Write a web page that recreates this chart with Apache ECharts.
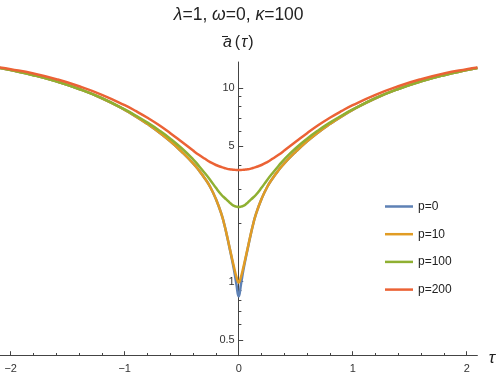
<!DOCTYPE html>
<html>
<head>
<meta charset="utf-8">
<script src="https://cdn.jsdelivr.net/npm/echarts@6/dist/echarts.min.js"></script>
<style>
  html, body { margin: 0; padding: 0; background: #fff; }
  #main { width: 498px; height: 380px; }
</style>
</head>
<body>
<div id="main"></div>
<script>
// tau samples (denser near 0 where the curves dip)
const tau = [-2.094, -2.0, -1.8, -1.6, -1.4, -1.2, -1.0, -0.9, -0.8, -0.7, -0.6, -0.5, -0.4, -0.35, -0.3, -0.25, -0.2, -0.15, -0.125, -0.1, -0.08, -0.06, -0.04, -0.02,
  0,
  0.02, 0.04, 0.06, 0.08, 0.1, 0.125, 0.15, 0.2, 0.25, 0.3, 0.35, 0.4, 0.5, 0.6, 0.7, 0.8, 0.9, 1.0, 1.2, 1.4, 1.6, 1.8, 2.0, 2.094];

const p0 = [12.66, 12.35, 11.63, 10.80, 9.87, 8.84, 7.70, 7.11, 6.51, 5.91, 5.30, 4.68, 4.08, 3.76, 3.43, 3.08, 2.67, 2.22, 1.96, 1.69, 1.49, 1.31, 1.14, 0.97,
  0.84,
  0.97, 1.14, 1.31, 1.49, 1.69, 1.96, 2.22, 2.67, 3.08, 3.43, 3.76, 4.08, 4.68, 5.30, 5.91, 6.51, 7.11, 7.70, 8.84, 9.87, 10.80, 11.63, 12.35, 12.66];

const p10 = [12.66, 12.35, 11.63, 10.80, 9.87, 8.84, 7.70, 7.11, 6.51, 5.91, 5.30, 4.68, 4.08, 3.76, 3.43, 3.08, 2.67, 2.22, 1.96, 1.70, 1.50, 1.33, 1.18, 1.06,
  0.99,
  1.06, 1.18, 1.33, 1.50, 1.70, 1.96, 2.22, 2.67, 3.08, 3.43, 3.76, 4.08, 4.68, 5.30, 5.91, 6.51, 7.11, 7.70, 8.84, 9.87, 10.80, 11.63, 12.35, 12.66];

const p100 = [12.66, 12.35, 11.63, 10.80, 9.87, 8.85, 7.74, 7.18, 6.62, 6.05, 5.47, 4.88, 4.28, 3.96, 3.65, 3.35, 3.05, 2.80, 2.71, 2.63, 2.56, 2.50, 2.46, 2.44,
  2.43,
  2.44, 2.46, 2.50, 2.56, 2.63, 2.71, 2.80, 3.05, 3.35, 3.65, 3.96, 4.28, 4.88, 5.47, 6.05, 6.62, 7.18, 7.74, 8.85, 9.87, 10.80, 11.63, 12.35, 12.66];

const p200 = [12.75, 12.49, 11.86, 11.09, 10.20, 9.21, 8.14, 7.58, 7.01, 6.43, 5.84, 5.27, 4.75, 4.52, 4.32, 4.14, 4.00, 3.90, 3.86, 3.82, 3.80, 3.79, 3.78, 3.77,
  3.77,
  3.77, 3.78, 3.79, 3.80, 3.82, 3.86, 3.90, 4.00, 4.14, 4.32, 4.52, 4.75, 5.27, 5.84, 6.43, 7.01, 7.58, 8.14, 9.21, 10.20, 11.09, 11.86, 12.49, 12.75];

const seriesNames = ['p=0', 'p=10', 'p=100', 'p=200'];
const xMajorTicks = [-2, -1, 0, 1, 2];
const xMinorTicks = [-1.8, -1.6, -1.4, -1.2, -0.8, -0.6, -0.4, -0.2, 0.2, 0.4, 0.6, 0.8, 1.2, 1.4, 1.6, 1.8];
const yMajorTicks = [0.5, 1, 5, 10];
const yMinorTicks = [0.6, 0.7, 0.8, 0.9, 2, 3, 4, 6, 7, 8, 9];

const colors = ['#5E81B5', '#E19C24', '#8FB032', '#EB6235'];
const font = 'Liberation Sans';
const axisColor = '#444';
const textColor = '#222';

let chart = echarts.init(document.getElementById('main'));

let grid = { left: 0, top: 62, width: 477.4, height: 293.7, outerBoundsMode: 'none', containLabel: false };
let xRange = { min: -2.094, max: 2.094 };
let yRange = { min: 0.415, max: 13.6 };
// the vertical axis sits at tau = 0, inside the grid
let yAxisShift = -grid.width * (0 - xRange.min) / (xRange.max - xRange.min);

let toPairs = (vals) => tau.map((t, i) => [t, vals[i]]);
let mkSeries = (name, vals, i) => {
    return {
        name,
        type: 'line',
        xAxisIndex: 0,
        yAxisIndex: 0,
        data: toPairs(vals),
        showSymbol: false,
        symbol: 'none',
        smooth: 0.5,
        lineStyle: { width: 2.5, color: colors[i] },
        itemStyle: { color: colors[i] },
        z: 2 + i
    }
}
let italic = (size) => ({ fontStyle: 'italic', fontFamily: font, fontSize: size, fill: textColor });

chart.setOption({
    animation: false,
    color: colors,
    grid: [grid, grid],
    xAxis: [{
        gridIndex: 0,
        type: 'value',
        ...xRange,
        axisLine: { onZero: false, lineStyle: { color: axisColor, width: 1 } },
        axisTick: { inside: true, length: 4.5, customValues: xMajorTicks, lineStyle: { color: axisColor } },
        axisLabel: {
            customValues: xMajorTicks,
            margin: 8,
            fontFamily: font,
            fontSize: 11,
            color: '#333',
            formatter: (v) => String(v).replace('-', '\u2212')
        },
        splitLine: { show: false }
    }, {
        gridIndex: 1,
        type: 'value',
        ...xRange,
        axisLine: { onZero: false, show: false },
        axisTick: { inside: true, length: 2.7, customValues: xMinorTicks, lineStyle: { color: axisColor } },
        axisLabel: { show: false },
        splitLine: { show: false }
    }],
    yAxis: [{
        gridIndex: 0,
        type: 'log',
        logBase: 10,
        ...yRange,
        position: 'left',
        offset: yAxisShift,
        axisLine: { onZero: false, lineStyle: { color: axisColor, width: 1 } },
        axisTick: { inside: true, length: 4.5, customValues: yMajorTicks, lineStyle: { color: axisColor } },
        axisLabel: {
            customValues: yMajorTicks,
            margin: 4,
            fontFamily: font,
            fontSize: 11,
            color: '#333',
            formatter: (v) => String(+(+v).toFixed(2))
        },
        splitLine: { show: false }
    }, {
        gridIndex: 1,
        type: 'log',
        logBase: 10,
        ...yRange,
        position: 'left',
        offset: yAxisShift,
        axisLine: { onZero: false, show: false },
        axisTick: { inside: true, length: 2.7, customValues: yMinorTicks, lineStyle: { color: axisColor } },
        axisLabel: { show: false },
        splitLine: { show: false }
    }],
    legend: {
        orient: 'vertical',
        left: 385,
        top: 200.5,
        padding: 0,
        icon: 'rect',
        itemWidth: 28,
        itemHeight: 2.5,
        itemGap: 15.7,
        data: seriesNames,
        textStyle: { fontFamily: font, fontSize: 12, color: textColor }
    },
    graphic: [{
        type: 'text',
        x: 238.7,
        y: 15,
        style: {
            text: '{g|\u03bb}=1, {g|\u03c9}=0, {g|\u03ba}=100',
            textAlign: 'center', textVerticalAlign: 'middle',
            align: 'center', verticalAlign: 'middle',
            fontFamily: font, fontSize: 17.5, fill: textColor,
            rich: { g: italic(17.5) }
        }
    }, {
        type: 'text',
        x: 238.2,
        y: 43,
        style: {
            text: '{a|a}{p|(}{t|\u03c4}{p|)}',
            textAlign: 'center', textVerticalAlign: 'middle',
            align: 'center', verticalAlign: 'middle',
            fontFamily: font, fontSize: 16, fill: textColor,
            rich: {
                a: { ...italic(16), padding: [0, 3, 0, 0] },
                t: { ...italic(16), padding: [0, 1, 0, 1] },
                p: { fontFamily: font, fontSize: 16, fill: textColor }
            }
        }
    }, {
        // overbar on the a
        type: 'line',
        shape: { x1: 222, y1: 36.5, x2: 228, y2: 36.5 },
        style: { stroke: textColor, lineWidth: 1 }
    }, {
        type: 'text',
        x: 492,
        y: 358,
        style: {
            text: '\u03c4',
            textAlign: 'center', textVerticalAlign: 'middle',
            align: 'center', verticalAlign: 'middle',
            fontFamily: font, fontSize: 17, fontStyle: 'italic', fill: textColor
        }
    }],
    series: [
        mkSeries(seriesNames[0], p0, 0),
        mkSeries(seriesNames[1], p10, 1),
        mkSeries(seriesNames[2], p100, 2),
        mkSeries(seriesNames[3], p200, 3)
    ]
});
</script>
</body>
</html>
